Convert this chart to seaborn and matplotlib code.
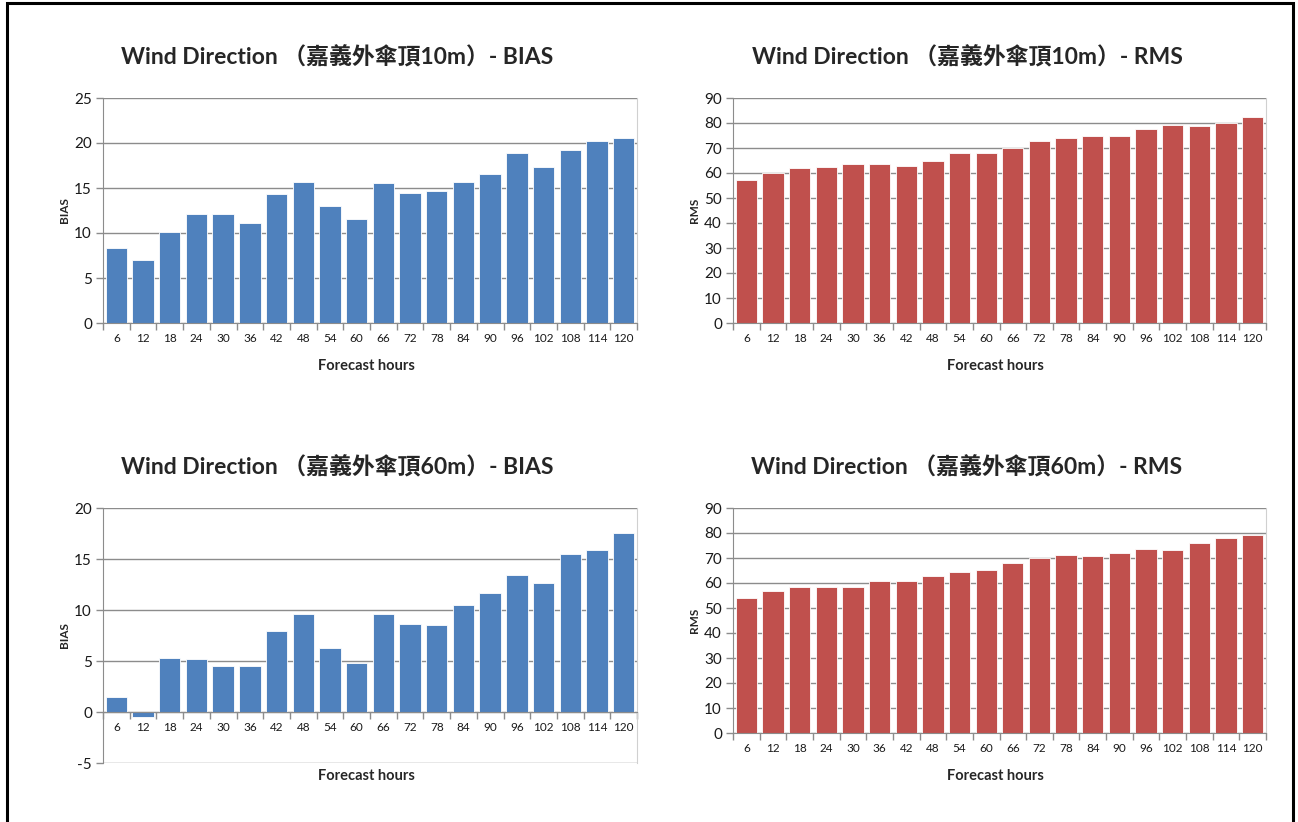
#!/usr/bin/env python3
# -*- coding: utf-8 -*-
"""Wind direction BIAS / RMS vs forecast hours, 10 m and 60 m."""

import numpy as np
import seaborn as sns
import matplotlib.pyplot as plt
from matplotlib.patches import Rectangle

# %% Data

lst_hours = ['6', '12', '18', '24', '30', '36', '42', '48', '54', '60',
             '66', '72', '78', '84', '90', '96', '102', '108', '114', '120']

bias_10m = [8.3, 7.0, 10.1, 12.1, 12.1, 11.1, 14.3, 15.7, 13.0, 11.5,
            15.6, 14.4, 14.7, 15.7, 16.6, 18.9, 17.3, 19.2, 20.2, 20.6]
rms_10m = [57.0, 60.1, 61.8, 62.5, 63.4, 63.4, 62.9, 64.9, 68.1, 68.1,
           69.9, 72.9, 73.8, 74.9, 74.9, 77.5, 79.1, 78.6, 79.8, 82.2]
bias_60m = [1.5, -0.45, 5.3, 5.2, 4.55, 4.55, 7.9, 9.6, 6.25, 4.8,
            9.6, 8.65, 8.55, 10.5, 11.65, 13.45, 12.65, 15.5, 15.9, 17.55]
rms_60m = [54.0, 57.0, 58.6, 58.6, 58.6, 60.8, 60.8, 62.9, 64.5, 65.4,
           68.1, 69.9, 71.3, 70.7, 72.2, 73.8, 73.4, 75.9, 78.1, 79.1]

lst_titles = ['Wind Direction （嘉義外傘頂10m）- BIAS',
              'Wind Direction （嘉義外傘頂10m）- RMS',
              'Wind Direction （嘉義外傘頂60m）- BIAS',
              'Wind Direction （嘉義外傘頂60m）- RMS']
lst_ylabels = ['BIAS', 'RMS', 'BIAS', 'RMS']
lst_ylims = [(0, 25), (0, 90), (-5, 20), (0, 90)]
lst_ysteps = [5, 10, 5, 10]

str_blue = '#4F81BD'
str_red = '#C0504D'
lst_colors = [str_blue, str_red, str_blue, str_red]

# %% Plot

sns.set_style('white')
plt.rcParams['font.family'] = ['Lato', 'Noto Sans CJK TC']
plt.rcParams['axes.unicode_minus'] = False

W, H = 1298, 822
fig = plt.figure(figsize=(W / 100, H / 100), dpi=100)

# axes boxes in pixels: left, right, top, bottom
lst_boxes = [(103, 637, 98, 323), (733, 1266, 98, 323),
             (103, 637, 508, 763), (733, 1266, 508, 733)]
lst_title_pos = [(337, 57), (967, 57), (337, 467), (967, 467)]
lst_xlabel_y = [366, 366, 776, 776]

lst_data = [bias_10m, rms_10m, bias_60m, rms_60m]
grid_col = '#8C8C8C'

for ind in range(4):
    l, r, t, b = lst_boxes[ind]
    ax = fig.add_axes([l / W, 1 - b / H, (r - l) / W, (b - t) / H])
    sns.barplot(x=lst_hours, y=lst_data[ind], color=lst_colors[ind],
                saturation=1, width=0.8, ax=ax, edgecolor='white',
                linewidth=0.6)
    ymin, ymax = lst_ylims[ind]
    ax.set_ylim(ymin, ymax)
    ax.set_xlim(-0.5, len(lst_hours) - 0.5)
    ax.set_yticks(np.arange(ymin, ymax + 0.1, lst_ysteps[ind]))
    ax.yaxis.grid(True, color=grid_col, linewidth=1)
    ax.set_axisbelow(True)

    for side in ['top', 'right', 'left', 'bottom']:
        ax.spines[side].set_visible(True)
    ax.spines['top'].set_visible(False)
    ax.spines['right'].set_color('#D0D0D0')
    ax.spines['left'].set_color(grid_col)
    ax.spines['bottom'].set_color(grid_col)
    if ymin < 0:
        ax.spines['bottom'].set_position(('data', 0))

    # ticks between categories
    ax.set_xticks(np.arange(-0.5, len(lst_hours)), minor=True)
    ax.tick_params(axis='x', which='major', length=0, pad=7,
                   labelsize=8.5, labelcolor='#1a1a1a')
    ax.tick_params(axis='x', which='minor', length=5, width=1,
                   color=grid_col, direction='out', bottom=True)
    ax.tick_params(axis='y', length=5, width=1, color=grid_col,
                   direction='out', left=True, labelsize=11,
                   labelcolor='#1a1a1a', pad=3)

    ax.set_ylabel(lst_ylabels[ind], fontsize=8.5, fontweight='bold',
                  labelpad=3)
    ax.set_xlabel('')

    tx, ty = lst_title_pos[ind]
    fig.text(tx / W, 1 - ty / H, lst_titles[ind], ha='center', va='center',
             fontsize=16.5, fontweight='bold')
    fig.text(((l + r) / 2 - 4) / W, 1 - lst_xlabel_y[ind] / H,
             'Forecast hours', ha='center', va='center', fontsize=10.5,
             fontweight='bold')

# outer black frame
fig.patches.append(Rectangle((7 / W, -0.02), (1293 - 7) / W,
                             1.02 - 3 / H, transform=fig.transFigure,
                             fill=False, edgecolor='black', linewidth=2.2))

fig.savefig('out.png', dpi=100)
